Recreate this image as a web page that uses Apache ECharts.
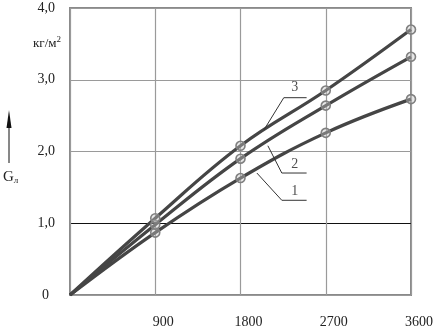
<!DOCTYPE html>
<html><head><meta charset="utf-8">
<script src="https://cdn.jsdelivr.net/npm/echarts@6/dist/echarts.min.js"></script>
<style>html,body{margin:0;padding:0;background:#fff}#c{width:436px;height:334px}</style>
</head><body><div id="c"></div>
<script>
const xValues = [0, 900, 1800, 2700, 3600];
const curve1 = [0, 0.87, 1.63, 2.26, 2.73];
const curve2 = [0, 0.98, 1.90, 2.64, 3.32];
const curve3 = [0, 1.07, 2.08, 2.85, 3.70];
const curveNames = ['1', '2', '3'];
// leader lines for curve labels (data coordinates)
const leader1 = [[1973, 1.70], [2236, 1.32], [2498, 1.32]];
const leader2 = [[2089, 2.08], [2236, 1.70], [2498, 1.70]];
const leader3 = [[2047, 2.30], [2257, 2.75], [2498, 2.75]];
const labelPos = [[2372, 1.44], [2372, 1.82], [2372, 2.89]];

const FONT = '"Liberation Serif", "DejaVu Serif", serif';
const chart = echarts.init(document.getElementById('c'), null, {renderer: 'canvas'});

function curveSeries(vals) {
  return {
    type: 'line', smooth: 0.4,
    data: xValues.map((x, i) => i === 0 ? {value: [x, vals[i]], symbol: 'none'} : [x, vals[i]]),
    symbol: 'circle', symbolSize: 9,
    lineStyle: {color: '#454545', width: 3.2},
    itemStyle: {color: 'rgba(200,200,200,0.4)', borderColor: '#808080', borderWidth: 1.6},
    z: 3, silent: true
  };
}
function leaderSeries(pts) {
  return {type: 'line', data: pts, symbol: 'none', lineStyle: {color: '#333', width: 1}, z: 4, silent: true};
}

chart.setOption({
  animation: false,
  grid: {left: 70, top: 8, width: 343, height: 287, show: true, borderColor: '#8a8a8a', borderWidth: 2, backgroundColor: 'transparent'},
  xAxis: {
    type: 'value', min: 0, max: 3600, interval: 900,
    axisLine: {show: false}, axisTick: {show: false},
    splitLine: {show: true, lineStyle: {color: '#9a9a9a', width: 1.2}},
    axisLabel: {showMinLabel: false, margin: 20, color: '#222', fontFamily: FONT, fontSize: 14, padding: [0, 0, 0, 16],
      formatter: v => v === 3600 ? '{h|' + v + '}' : String(v),
      rich: {h: {padding: [0, 0, 9, 0], fontFamily: FONT, fontSize: 14, color: '#222'}}}
  },
  yAxis: {
    type: 'value', min: 0, max: 4, interval: 1,
    axisLine: {show: false}, axisTick: {show: false},
    splitLine: {show: true, lineStyle: {color: ['#9a9a9a', '#111', '#9a9a9a', '#9a9a9a', '#9a9a9a'], width: 1.2}},
    axisLabel: {margin: 15, color: '#222', fontFamily: FONT, fontSize: 14,
      formatter: v => v === 0 ? '{z|0}' : v.toFixed(1).replace('.', ','),
      rich: {z: {padding: [0, 6, 0, 0], fontFamily: FONT, fontSize: 14, color: '#222'}}}
  },
  series: [
    curveSeries(curve1), curveSeries(curve2), curveSeries(curve3),
    leaderSeries(leader1), leaderSeries(leader2), leaderSeries(leader3),
    {type: 'scatter', symbolSize: 0, silent: true, z: 5,
     data: labelPos.map((p, i) => ({value: p, name: curveNames[i]})),
     label: {show: true, position: 'inside', formatter: '{b}', color: '#222', fontFamily: FONT, fontSize: 14}}
  ],
  graphic: [
    {type: 'text', left: 33, top: 35, style: {text: 'кг/м{s|2}', font: '13px ' + FONT, fill: '#222',
      rich: {s: {fontSize: 9, fontFamily: FONT, padding: [0, 0, 9, 0], fill: '#222'}}}},
    {type: 'line', shape: {x1: 9, y1: 122, x2: 9, y2: 163}, style: {stroke: '#111', lineWidth: 1}},
    {type: 'polygon', shape: {points: [[9, 110], [6.5, 128], [11.5, 128]]}, style: {fill: '#111'}},
    {type: 'text', left: 3, top: 170, style: {text: 'G{s|л}', font: '15px ' + FONT, fill: '#222',
      rich: {s: {fontSize: 9, fontFamily: FONT, padding: [7, 0, 0, 0], fill: '#222'}}}}
  ]
});
</script></body></html>
